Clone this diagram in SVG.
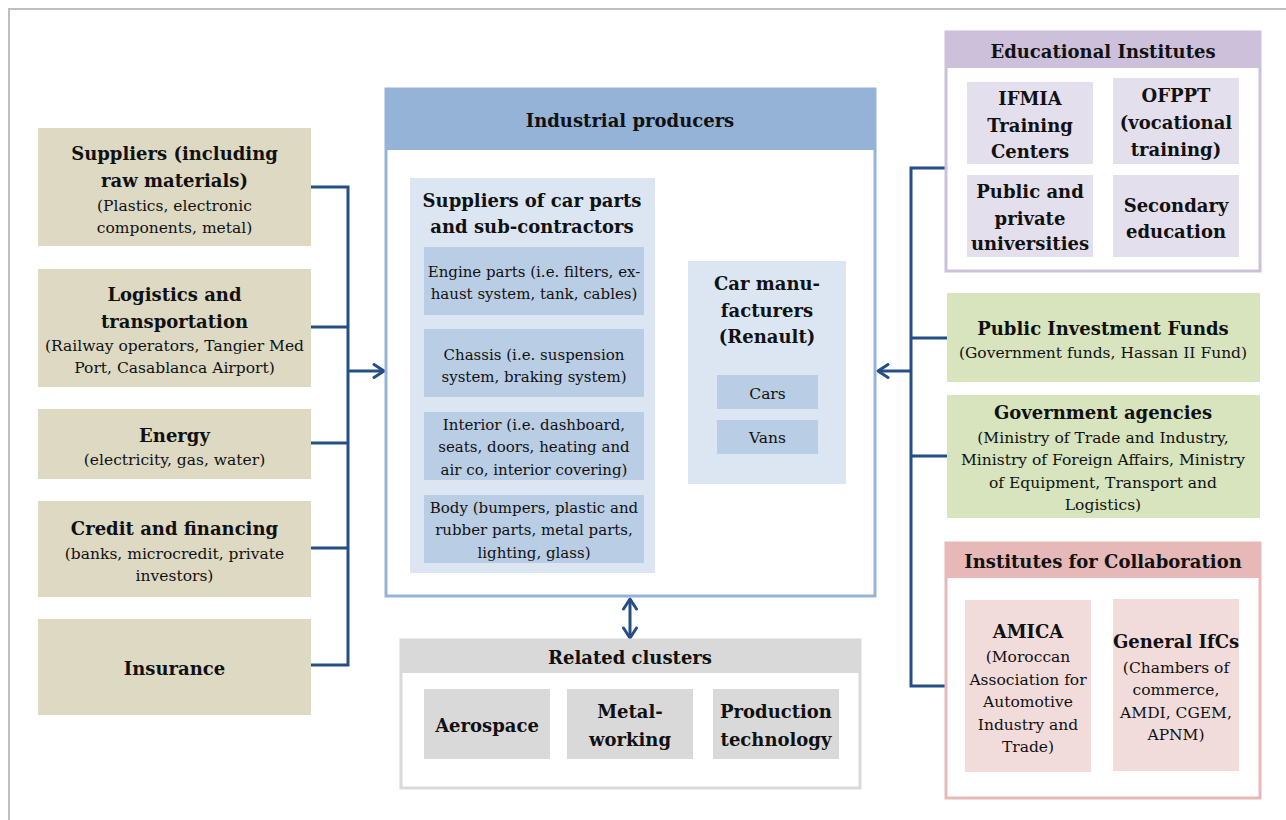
<svg xmlns="http://www.w3.org/2000/svg" width="1286" height="820" viewBox="0 0 1286 820">
<defs>
<style>
text{font-family:"DejaVu Serif","Liberation Serif",serif;fill:#111;text-anchor:middle}
.b{font-weight:bold;font-size:18px}
.r{font-size:15.5px}
.s{font-size:15px}
.con{fill:none;stroke:#254e85;stroke-width:3}
</style>
<marker id="chev" viewBox="0 0 14 16" refX="12" refY="8" markerWidth="14" markerHeight="16" markerUnits="userSpaceOnUse" orient="auto-start-reverse">
<path d="M2,1.5 L12,8 L2,14.5" fill="none" stroke="#254e85" stroke-width="3" stroke-linecap="round" stroke-linejoin="round"/>
</marker>
</defs>
<rect x="0" y="0" width="1286" height="820" fill="#fff"/>
<path d="M9,820 V9 H1286" fill="none" stroke="#bfbfbf" stroke-width="2"/>

<g id="connectors">
<path class="con" d="M311,187 H348 V665 H311"/>
<path class="con" d="M311,327 H348 M311,443 H348 M311,548 H348"/>
<path class="con" d="M348,371 H384" marker-end="url(#chev)"/>
<path class="con" d="M655,371 H687" marker-end="url(#chev)"/>
<path class="con" d="M945,168 H911 V686 H945"/>
<path class="con" d="M911,338 H947 M911,456 H947"/>
<path class="con" d="M911,371 H878" marker-end="url(#chev)"/>
<path class="con" d="M630,599 V638" marker-start="url(#chev)" marker-end="url(#chev)"/>
</g>

<g id="suppliers">
<rect x="38" y="128" width="273" height="118" fill="#ddd9c3"/>
<text class="b" x="174.5" y="160">Suppliers (including</text>
<text class="b" x="174.5" y="187">raw materials)</text>
<text class="r" x="174.5" y="211">(Plastics, electronic</text>
<text class="r" x="174.5" y="233">components, metal)</text>
</g>
<g id="logistics">
<rect x="38" y="269" width="273" height="118" fill="#ddd9c3"/>
<text class="b" x="174.5" y="301">Logistics and</text>
<text class="b" x="174.5" y="328">transportation</text>
<text class="r" x="174.5" y="351">(Railway operators, Tangier Med</text>
<text class="r" x="174.5" y="373">Port, Casablanca Airport)</text>
</g>
<g id="energy">
<rect x="38" y="409" width="273" height="70" fill="#ddd9c3"/>
<text class="b" x="174.5" y="442">Energy</text>
<text class="r" x="174.5" y="465">(electricity, gas, water)</text>
</g>
<g id="credit">
<rect x="38" y="501" width="273" height="96" fill="#ddd9c3"/>
<text class="b" x="174.5" y="535">Credit and financing</text>
<text class="r" x="174.5" y="559">(banks, microcredit, private</text>
<text class="r" x="174.5" y="581">investors)</text>
</g>
<g id="insurance">
<rect x="38" y="619" width="273" height="96" fill="#ddd9c3"/>
<text class="b" x="174.5" y="675">Insurance</text>
</g>

<g id="industrial-producers">
<rect x="386" y="89" width="489" height="507" fill="#fff" stroke="#95b3d7" stroke-width="3"/>
<rect x="386" y="89" width="489" height="61" fill="#95b3d7"/>
<text class="b" x="630" y="127">Industrial producers</text>
</g>
<g id="car-parts-suppliers">
<rect x="410" y="178" width="245" height="395" fill="#dce6f2"/>
<text class="b" x="532" y="207">Suppliers of car parts</text>
<text class="b" x="532" y="233">and sub-contractors</text>
</g>
<g id="engine-parts">
<rect x="424" y="247" width="220" height="68" fill="#b9cde5"/>
<text class="s" x="534" y="277">Engine parts (i.e. filters, ex-</text>
<text class="s" x="534" y="299">haust system, tank, cables)</text>
</g>
<g id="chassis">
<rect x="424" y="329" width="220" height="68" fill="#b9cde5"/>
<text class="s" x="534" y="360">Chassis (i.e. suspension</text>
<text class="s" x="534" y="382">system, braking system)</text>
</g>
<g id="interior">
<rect x="424" y="412" width="220" height="68" fill="#b9cde5"/>
<text class="s" x="534" y="430">Interior (i.e. dashboard,</text>
<text class="s" x="534" y="452">seats, doors, heating and</text>
<text class="s" x="534" y="475">air co, interior covering)</text>
</g>
<g id="body">
<rect x="424" y="495" width="220" height="68" fill="#b9cde5"/>
<text class="s" x="534" y="513">Body (bumpers, plastic and</text>
<text class="s" x="534" y="535">rubber parts, metal parts,</text>
<text class="s" x="534" y="558">lighting, glass)</text>
</g>
<g id="car-manufacturers">
<rect x="688" y="261" width="158" height="223" fill="#dce6f2"/>
<text class="b" x="767" y="290">Car manu-</text>
<text class="b" x="767" y="317">facturers</text>
<text class="b" x="767" y="343">(Renault)</text>
</g>
<g id="cars">
<rect x="717" y="375" width="101" height="34" fill="#b9cde5"/>
<text class="r" x="767.5" y="399">Cars</text>
</g>
<g id="vans">
<rect x="717" y="420" width="101" height="34" fill="#b9cde5"/>
<text class="r" x="767.5" y="443">Vans</text>
</g>

<g id="related-clusters">
<rect x="401" y="640" width="459" height="148" fill="#fff" stroke="#d9d9d9" stroke-width="3"/>
<rect x="401" y="640" width="459" height="33" fill="#d9d9d9"/>
<text class="b" x="630" y="664">Related clusters</text>
</g>
<g id="aerospace">
<rect x="424" y="689" width="126" height="70" fill="#d9d9d9"/>
<text class="b" x="487" y="732">Aerospace</text>
</g>
<g id="metal-working">
<rect x="567" y="689" width="126" height="70" fill="#d9d9d9"/>
<text class="b" x="630" y="718">Metal-</text>
<text class="b" x="630" y="746">working</text>
</g>
<g id="production-technology">
<rect x="713" y="689" width="126" height="70" fill="#d9d9d9"/>
<text class="b" x="776" y="718">Production</text>
<text class="b" x="776" y="746">technology</text>
</g>

<g id="educational-institutes">
<rect x="946" y="32" width="314" height="239" fill="#fff" stroke="#ccc0da" stroke-width="3"/>
<rect x="946" y="32" width="314" height="36" fill="#ccc0da"/>
<text class="b" x="1103" y="58">Educational Institutes</text>
</g>
<g id="ifmia">
<rect x="967" y="82" width="126" height="82" fill="#e4dfec"/>
<text class="b" x="1030" y="105">IFMIA</text>
<text class="b" x="1030" y="132">Training</text>
<text class="b" x="1030" y="158">Centers</text>
</g>
<g id="ofppt">
<rect x="1113" y="78" width="126" height="86" fill="#e4dfec"/>
<text class="b" x="1176" y="102">OFPPT</text>
<text class="b" x="1176" y="129">(vocational</text>
<text class="b" x="1176" y="156">training)</text>
</g>
<g id="universities">
<rect x="967" y="175" width="126" height="82" fill="#e4dfec"/>
<text class="b" x="1030" y="198">Public and</text>
<text class="b" x="1030" y="225">private</text>
<text class="b" x="1030" y="250">universities</text>
</g>
<g id="secondary-education">
<rect x="1113" y="175" width="126" height="82" fill="#e4dfec"/>
<text class="b" x="1176" y="212">Secondary</text>
<text class="b" x="1176" y="238">education</text>
</g>

<g id="public-investment-funds">
<rect x="947" y="293" width="313" height="89" fill="#d7e4bd"/>
<text class="b" x="1103" y="335">Public Investment Funds</text>
<text class="r" x="1103" y="358">(Government funds, Hassan II Fund)</text>
</g>
<g id="government-agencies">
<rect x="947" y="395" width="313" height="123" fill="#d7e4bd"/>
<text class="b" x="1103" y="419">Government agencies</text>
<text class="r" x="1103" y="443">(Ministry of Trade and Industry,</text>
<text class="r" x="1103" y="465">Ministry of Foreign Affairs, Ministry</text>
<text class="r" x="1103" y="488">of Equipment, Transport and</text>
<text class="r" x="1103" y="510">Logistics)</text>
</g>

<g id="institutes-for-collaboration">
<rect x="946" y="543" width="314" height="255" fill="#fff" stroke="#e6b9b8" stroke-width="3"/>
<rect x="946" y="543" width="314" height="35" fill="#e6b9b8"/>
<text class="b" x="1103" y="568">Institutes for Collaboration</text>
</g>
<g id="amica">
<rect x="965" y="600" width="126" height="172" fill="#f2dcdb"/>
<text class="b" x="1028" y="638">AMICA</text>
<text class="r" x="1028" y="662">(Moroccan</text>
<text class="r" x="1028" y="685">Association for</text>
<text class="r" x="1028" y="707">Automotive</text>
<text class="r" x="1028" y="730">Industry and</text>
<text class="r" x="1028" y="752">Trade)</text>
</g>
<g id="general-ifcs">
<rect x="1113" y="599" width="126" height="172" fill="#f2dcdb"/>
<text class="b" x="1176" y="648">General IfCs</text>
<text class="r" x="1176" y="673">(Chambers of</text>
<text class="r" x="1176" y="695">commerce,</text>
<text class="r" x="1176" y="718">AMDI, CGEM,</text>
<text class="r" x="1176" y="740">APNM)</text>
</g>
</svg>
